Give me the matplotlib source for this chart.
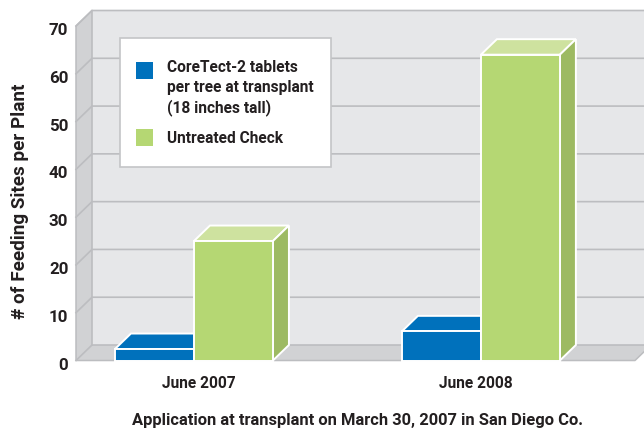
import matplotlib
matplotlib.use("Agg")
import matplotlib.pyplot as plt
from matplotlib.patches import Polygon, Patch, Rectangle
from matplotlib.legend_handler import HandlerPatch
from matplotlib.transforms import Affine2D

plt.rcParams['font.family'] = ['Roboto', 'Liberation Sans', 'DejaVu Sans']
plt.rcParams['font.weight'] = 'bold'

categories = ["June 2007", "June 2008"]
coretect = [2.4, 6.1]
untreated = [25, 64]
yticks = [0, 10, 20, 30, 40, 50, 60, 70]
series_labels = ["CoreTect-2 tablets\nper tree at transplant\n(18 inches tall)", "Untreated Check"]
xlabel = "Application at transplant on March 30, 2007 in San Diego Co."
ylabel = "# of Feeding Sites per Plant"

BLUE, GREEN, GTOP, GSIDE = "#0071bc", "#b5d773", "#cee29f", "#9dba62"
WALL, SIDE, GRID, TXT = "#e6e7e9", "#d1d2d4", "#bcbdc0", "#231f20"
W, H = 644, 430
fig = plt.figure(figsize=(W / 100, H / 100), dpi=100, facecolor="white")
ax = fig.add_axes([76 / W, 1 - 360.5 / H, (635 - 76) / W, (360.5 - 26) / H])
x0, x1 = -0.411, 1.537
ax.set_xlim(x0, x1)
ax.set_ylim(0, 70)
for s in ax.spines.values():
    s.set_visible(False)
ax.patch.set_visible(False)
dx, dy = 16 / 287, 15.5 / 4.78
bw = 79 / 287

def poly(pts, fc, ec="none", lw=0, z=1):
    ax.add_patch(Polygon(pts, closed=True, fc=fc, ec=ec, lw=lw, zorder=z, clip_on=False, joinstyle="miter"))

# walls
poly([(x0 + dx, dy), (x1 + dx, dy), (x1 + dx, 70 + dy), (x0 + dx, 70 + dy)], WALL)
poly([(x0, 0), (x0 + dx, dy), (x0 + dx, 70 + dy), (x0, 70)], SIDE)
poly([(x0, 0), (x1, 0), (x1 + dx, dy), (x0 + dx, dy)], SIDE)
for v in yticks:
    ax.plot([x0, x0 + dx, x1 + dx], [v, v + dy, v + dy], color=GRID, lw=1.2, zorder=2,
            clip_on=False, solid_joinstyle="miter")
ax.plot([x0 + dx, x0 + dx], [dy, 70 + dy], color=GRID, lw=1.2, zorder=2, clip_on=False)
ax.plot([x0 + dx, x0, x0, x1, x1 + dx], [70 + dy, 70, 0, 0, dy], color=GRID, lw=1.1, zorder=2, clip_on=False)

# 3-D bars
def bar3d(left, val, fc, top, side, z):
    ax.bar([left], [val], width=bw, align="edge", color=fc, edgecolor="white", linewidth=1.4, zorder=z + 1, clip_on=False)
    poly([(left, val), (left + bw, val), (left + bw + dx, val + dy), (left + dx, val + dy)], top, "white", 1.4, z)
    poly([(left + bw, 0), (left + bw + dx, dy), (left + bw + dx, val + dy), (left + bw, val)], side, "white", 1.4, z)

for i in range(len(categories)):
    bar3d(i - bw, coretect[i], BLUE, BLUE, BLUE, 3 + i * 4)
    bar3d(i, untreated[i], GREEN, GTOP, GSIDE, 5 + i * 4)

ax.set_yticks(yticks)
ax.set_yticklabels([str(v) for v in yticks], fontsize=12.2, color=TXT)
ax.set_xticks(range(len(categories)))
ax.set_xticklabels(categories, fontsize=11.2, color=TXT)
ax.tick_params(axis="y", length=0, pad=5.5)
ax.tick_params(axis="x", length=0, pad=11.5)
for lab in ax.get_yticklabels():
    lab.set_transform(lab.get_transform() + Affine2D().translate(0, -3))
for lab, off in zip(ax.get_xticklabels(), (5, -5)):
    lab.set_transform(lab.get_transform() + Affine2D().translate(off, 0))
fig.text((132 + 584) / 2 / W, 1 - 421 / H, xlabel, ha="center", va="center", fontsize=11.85, color=TXT)
fig.text(20 / W, 1 - 201 / H, ylabel, rotation=90, ha="center", va="center", fontsize=13.6, color=TXT)

# legend
class Swatch(HandlerPatch):
    def __init__(self, shift):
        super().__init__()
        self.shift = shift
    def create_artists(self, legend, orig, xd, yd, width, height, fontsize, trans):
        p = Rectangle((0, self.shift), width, width, fc=orig.get_facecolor(), ec="none", transform=trans)
        return [p]

ax.add_patch(Rectangle((120 / W, 1 - 167 / H), 211 / W, 129 / H, transform=fig.transFigure, fc="white",
                       ec="#c4c5c7", lw=1.2, zorder=19, clip_on=False))
h1 = Patch(fc=BLUE, label=series_labels[0])
h2 = Patch(fc=GREEN, label=series_labels[1])
leg = ax.legend(handles=[h1, h2], loc="upper left", bbox_to_anchor=(136 / W, 1 - 60.5 / H),
                bbox_transform=fig.transFigure, fontsize=11.2, labelcolor=TXT, frameon=False,
                borderaxespad=0, borderpad=0, handlelength=1.09, handletextpad=0.9,
                labelspacing=0.95, handler_map={h1: Swatch(11), h2: Swatch(-2)})
leg.get_texts()[0].set_linespacing(1.36)
leg.set_zorder(20)
fig.savefig("out.png", dpi=100)
